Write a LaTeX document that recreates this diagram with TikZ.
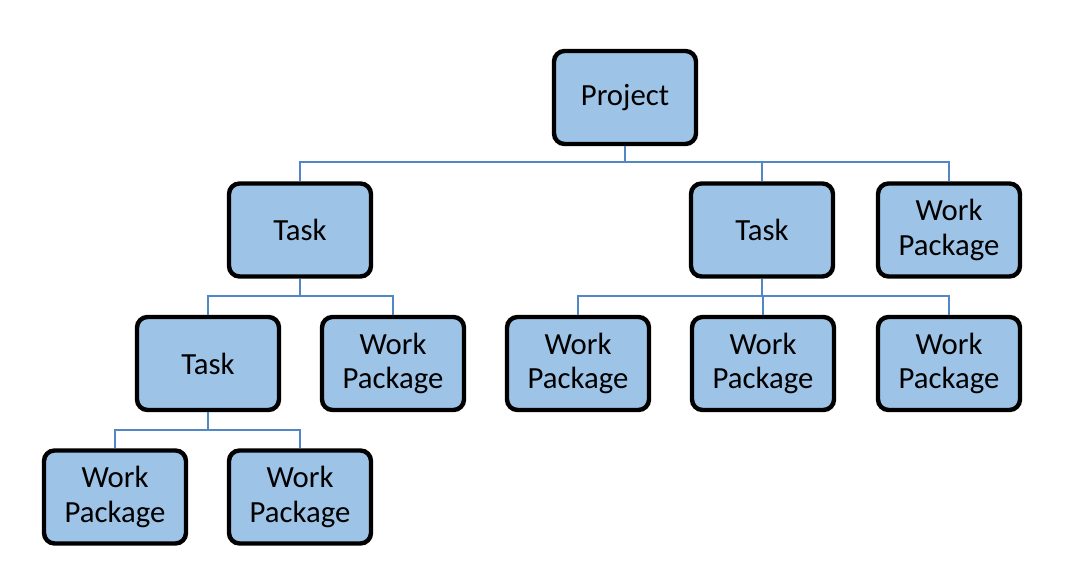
\documentclass[tikz,border=0pt]{standalone}
\usepackage{fontspec}
\setmainfont{Carlito}
\usepackage{xcolor}
\usepackage{tikz}
\usetikzlibrary{positioning}

\definecolor{boxfill}{HTML}{9DC3E6}
\definecolor{linkblue}{HTML}{5087C4}

\begin{document}
\begin{tikzpicture}[
    unit/.style={rectangle, rounded corners=6pt, draw=black, line width=2.5pt, fill=boxfill, minimum width=2.84cm, minimum height=1.86cm, align=center, font=\fontsize{17.5}{19.5}\selectfont},
    link/.style={draw=linkblue, line width=1.1pt}
]
\useasboundingbox (0,0) rectangle (21.44,11.46);

% Top level
\node[unit] (project) at (12.5,9.51) {Project};

% Second level
\node[unit] (taskA) at (6.0,6.86) {Task};
\node[unit] (taskB) at (15.24,6.86) {Task};
\node[unit] (wpB) at (18.98,6.86) {Work\\Package};

% Third level
\node[unit] (taskC) at (4.16,4.19) {Task};
\node[unit] (wpA1) at (7.86,4.19) {Work\\Package};
\node[unit] (wpB1) at (11.56,4.19) {Work\\Package};
\node[unit] (wpB2) at (15.26,4.19) {Work\\Package};
\node[unit] (wpB3) at (18.98,4.19) {Work\\Package};

% Fourth level
\node[unit] (wpC1) at (2.3,1.52) {Work\\Package};
\node[unit] (wpC2) at (6.0,1.52) {Work\\Package};

% Connectors
\foreach \child in {taskA,taskB,wpB}
  \draw[link] (project.south) -- ++(0,-0.32) -| (\child.north);
\foreach \child in {taskC,wpA1}
  \draw[link] (taskA.south) -- ++(0,-0.34) -| (\child.north);
\foreach \child in {wpB1,wpB2,wpB3}
  \draw[link] (taskB.south) -- ++(0,-0.34) -| (\child.north);
\foreach \child in {wpC1,wpC2}
  \draw[link] (taskC.south) -- ++(0,-0.36) -| (\child.north);

\end{tikzpicture}
\end{document}
